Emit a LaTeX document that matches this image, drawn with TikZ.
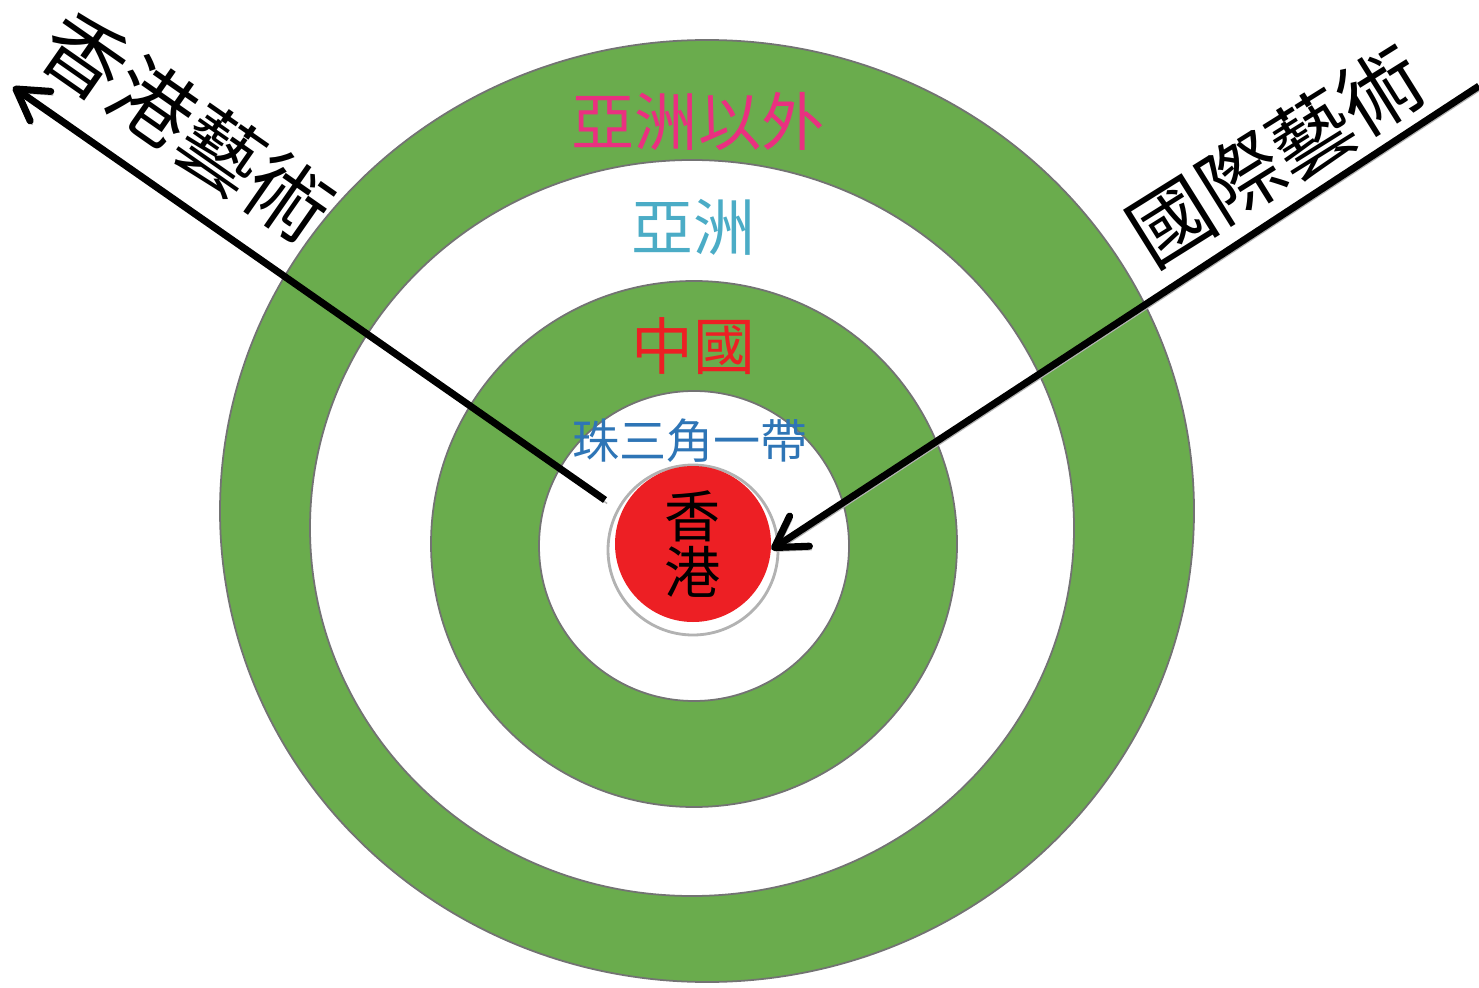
\documentclass[tikz,border=0pt]{standalone}
\usepackage{fontspec}
\usepackage{xcolor}
\usepackage{tikz}
\usetikzlibrary{arrows.meta}
\newfontfamily\cjk{Noto Sans CJK TC}
\definecolor{ringgreen}{RGB}{106,172,77}
\definecolor{hkred}{RGB}{237,31,36}
\definecolor{outpink}{RGB}{234,48,128}
\definecolor{asiablue}{RGB}{75,172,198}
\definecolor{prdblue}{RGB}{46,117,182}
\tikzset{
    ringedge/.style={draw=black!55, line width=0.5pt},
    bigarrow/.style={line width=2pt, -{Straight Barb[length=3mm,width=3.6mm,round]},
        preaction={draw=black!30, transform canvas={xshift=0.6pt,yshift=-1pt}}},
    ringlabel/.style={font=\cjk\fontsize{#1}{#1}\selectfont, inner sep=0pt}
}

\begin{document}
\begin{tikzpicture}
    \useasboundingbox (0,0) rectangle (14.79,9.87);

    % rings, outside in
    \fill[ringgreen, ringedge] (7.07,4.76) ellipse (4.87 and 4.71);
    \fill[white, ringedge] (6.92,4.59) ellipse (3.82 and 3.68);
    \fill[ringgreen, ringedge] (6.94,4.43) circle (2.63);
    \fill[white, ringedge] (6.94,4.41) circle (1.55);
    \draw[black!30, line width=0.8pt] (6.93,4.37) circle (0.85);
    \node[circle, fill=hkred, minimum size=1.56cm, inner sep=0pt, align=center,
        font=\cjk\fontsize{16}{14.5}\selectfont] at (6.93,4.43) (hk) {香\\港};

    \node[ringlabel=18, text=outpink] at (6.98,8.65) (beyond) {亞洲以外};
    \node[ringlabel=17.6, text=asiablue] at (6.93,7.60) (asia) {亞洲};
    \node[ringlabel=17.6, text=hkred] at (6.93,6.41) (china) {中國};
    \node[ringlabel=13.4, text=prdblue] at (6.90,5.46) (prd) {珠三角一帶};

    \coordinate (hkfrom) at (6.05,4.87);
    \coordinate (hkto) at (0.13,9.00);
    \coordinate (intlfrom) at (14.79,9.01);
    \draw[bigarrow] (hkfrom) -- (hkto);
    \draw[bigarrow] (intlfrom) -- (hk.-4);

    \node[ringlabel=23.5, rotate=-34.9] at (1.87,8.60) (hkart) {香港藝術};
    \node[ringlabel=23.5, rotate=32] at (12.76,8.31) (intlart) {國際藝術};
\end{tikzpicture}
\end{document}
